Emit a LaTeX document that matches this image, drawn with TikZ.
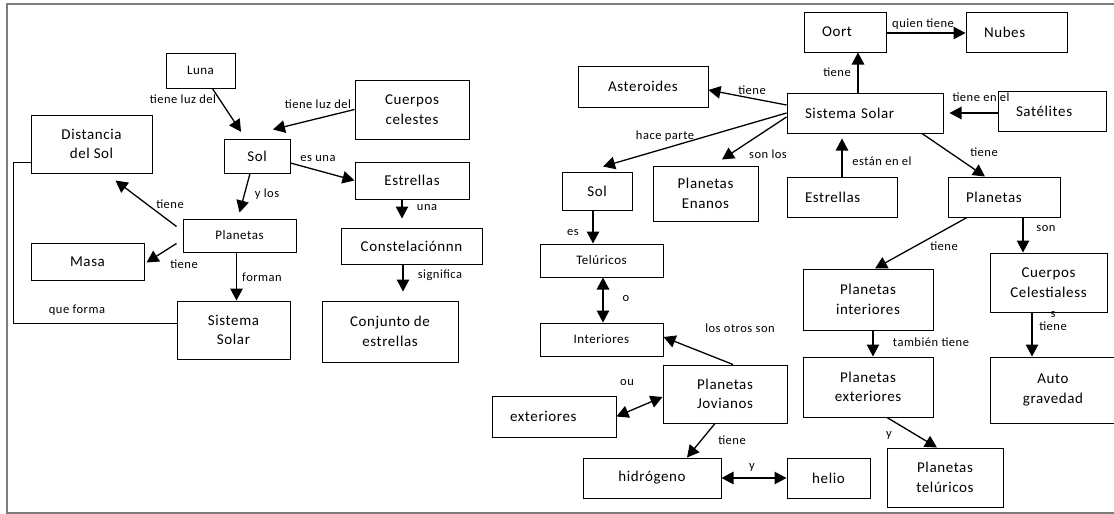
\documentclass[tikz,border=0pt]{standalone}
\usepackage{fontspec}
\setmainfont{Carlito}[LetterSpace=4]
\usepackage{xcolor}
\usepackage{tikz}
\usetikzlibrary{arrows.meta}
\definecolor{framegray}{RGB}{125,125,125}
\tikzset{edge/.style = {-{Triangle[length=12pt,width=12.5pt]}, line width=1.3pt}}
\tikzset{biedge/.style = {{Triangle[length=12pt,width=12.5pt]}-{Triangle[length=12pt,width=12.5pt]}, line width=1.3pt}}

\begin{document}
\begin{tikzpicture}[x=1pt,y=-1pt,
  box/.style 2 args={draw,line width=1pt,align=center,inner sep=0pt,minimum width=#1pt,minimum height=#2pt,font=\fontsize{15}{19.5}\selectfont},
  sbox/.style 2 args={box={#1}{#2},font=\fontsize{13}{16}\selectfont},
  lbox/.style 2 args={draw,line width=1pt,align=left,inner xsep=18pt,inner ysep=0pt,text width=#1pt,minimum height=#2pt,font=\fontsize{15}{19.5}\selectfont},
  lbl/.style={inner sep=0pt,font=\fontsize{12.5}{13}\selectfont}]
\useasboundingbox (0,0) rectangle (1114,514);
\fill[white] (0,0) rectangle (1114,514);
\draw[framegray,line width=2pt] (6.5,3.5) rectangle (1125,512.5);

\node[sbox={69}{35}] (luna) at (200.5,70.5) {Luna};
\node[box={121}{58}] (dist) at (91.5,144) {Distancia\\del Sol};
\node[box={66}{34}] (sol1) at (257,156) {Sol};
\node[box={114}{59}] (cuerpos) at (412,109.5) {Cuerpos\\celestes};
\node[box={114}{37}] (estr1) at (412,180.5) {Estrellas};
\node[box={141}{36}] (const) at (411.5,246) {Constelaciónnn};
\node[box={136}{61}] (conj) at (390,331.5) {Conjunto de\\estrellas};
\node[sbox={113}{33}] (plan1) at (239.5,235.5) {Planetas};
\node[box={113}{37}] (masa) at (87.5,261.5) {Masa};
\node[box={113}{58}] (sis1) at (233.5,330) {Sistema\\Solar};

\node[lbox={46}{40}] (oort) at (845,32) {Oort};
\node[lbox={65}{40}] (nubes) at (1016.5,32) {Nubes};
\node[lbox={120}{40}] (sis2) at (865,113) {Sistema Solar};
\node[lbox={72}{40}] (sat) at (1052,111) {Satélites};
\node[box={130}{41}] (aster) at (643,86.5) {Asteroides};
\node[box={70}{38}] (sol2) at (597,191) {Sol};
\node[box={105}{55}] (enanos) at (705.5,193.5) {Planetas\\Enanos};
\node[lbox={74}{40}] (estr2) at (842,197) {Estrellas};
\node[lbox={76}{40}] (plan2) at (1004,197) {Planetas};
\node[sbox={123}{33}] (telur) at (601.5,260.5) {Telúricos};
\node[sbox={123}{33}] (inter) at (601.5,339.5) {Interiores};
\node[box={124}{58}] (jov) at (725,394) {Planetas\\Jovianos};
\node[lbox={88}{41}] (exter) at (554,416.5) {exteriores};
\node[box={138}{40}] (hidro) at (652,478) {hidrógeno};
\node[box={83}{40}] (helio) at (828.5,478) {helio};
\node[box={116}{59}] (ptel) at (945,477.5) {Planetas\\telúricos};
\node[box={130}{61}] (pint) at (868,299.5) {Planetas\\interiores};
\node[box={130}{60}] (pext) at (868,387) {Planetas\\exteriores};
\node[box={117}{59}] (cuer2) at (1048.5,282.5) {Cuerpos\\Celestialess};
\node[box={126}{66}] (auto) at (1053,390) {Auto\\gravedad};

\draw[edge,shorten >=8pt] (luna) -- (sol1);
\draw[edge] (cuerpos.west) -- ([xshift=16pt,yshift=9pt]sol1.north);
\draw[edge] ([yshift=-7pt]sol1.east) -- (estr1.west);
\draw[edge] ([xshift=-7pt]sol1.south) -- ([yshift=6pt]plan1.north);
\draw[edge] ([xshift=-6pt,yshift=9pt]plan1.west) -- ([xshift=24pt,yshift=-7pt]dist.south);
\draw[edge] ([xshift=-6pt,yshift=-8pt]plan1.west) -- ([xshift=2pt,yshift=-1pt]masa.east);
\draw[edge] ([xshift=-3pt]plan1.south) -- ([xshift=3pt]sis1.north);
\draw[line width=1pt] ([yshift=7pt]sis1.west) -- ++(-163,0) |- ([yshift=-18pt]dist.west);
\draw[edge] ([xshift=-10pt]estr1.south) -- ([xshift=-9.5pt,yshift=9pt]const.north);
\draw[edge] ([xshift=-8.5pt]const.south) -- ([xshift=13pt,yshift=9pt]conj.north);

\draw[edge] ([xshift=-7pt]sis2.north) -- ([xshift=13pt]oort.south);
\draw[edge] ([yshift=-1pt]oort.east) -- ([yshift=-1pt]nubes.west);
\draw[edge] ([yshift=-2pt]sat.west) -- ([xshift=6pt]sis2.east);
\draw[edge] ([yshift=8pt]sis2.west) -- ([yshift=-3.5pt]aster.east);
\draw[edge] (sis2.west) -- ([xshift=6pt,yshift=5pt]sol2.north);
\draw[edge] ([yshift=-4pt]sis2.west) -- ([xshift=16.5pt,yshift=6pt]enanos.north);
\draw[edge,shorten >=5pt] (estr2.north) -- (estr2.north |- sis2.south);
\draw[edge] ([xshift=57pt]sis2.south) -- ([xshift=-19pt]plan2.north);
\draw[edge] ([xshift=-37pt]plan2.south) -- ([xshift=7pt]pint.north);
\draw[edge] ([xshift=19pt]plan2.south) -- ([xshift=-25.5pt]cuer2.north);
\draw[edge] ([xshift=-16.5pt]cuer2.south) -- ([xshift=-21pt]auto.north);
\draw[edge] ([xshift=5pt]pint.south) -- ([xshift=5pt]pext.north);
\draw[edge] ([xshift=19pt]pext.south) -- ([xshift=-8pt]ptel.north);
\draw[edge] ([xshift=-4pt]sol2.south) -- ([xshift=-8.5pt]telur.north);
\draw[biedge] ([xshift=1.5pt]telur.south) -- ([xshift=1.5pt]inter.north);
\draw[edge] ([xshift=8pt]jov.north) -- ([yshift=2.5pt]inter.east);
\draw[biedge] (exter.east) -- ([yshift=-3pt]jov.west);
\draw[edge] ([xshift=-10pt]jov.south) -- ([xshift=35pt]hidro.north);
\draw[biedge] (hidro.east) -- (helio.west);

\node[lbl] (t1) at (183,99) {tiene luz del};
\node[lbl] (t2) at (318,104) {tiene luz del};
\node[lbl] (t3) at (318,159) {es una};
\node[lbl] (t4) at (267,194) {y los};
\node[lbl] (t5) at (170,204) {tiene};
\node[lbl] (t6) at (184,264) {tiene};
\node[lbl] (t7) at (262,277) {forman};
\node[lbl] (t8) at (77,310) {que forma};
\node[lbl] (t9) at (427,208) {una};
\node[lbl] (t10) at (440,275) {significa};
\node[lbl] (t11) at (837,72) {tiene};
\node[lbl] (t12) at (923,24) {quien tiene};
\node[lbl] (t13) at (981,97) {tiene en el};
\node[lbl] (t14) at (752,90) {tiene};
\node[lbl] (t15) at (665,136) {hace parte};
\node[lbl] (t16) at (768,154) {son los};
\node[lbl] (t17) at (882,161) {están en el};
\node[lbl] (t18) at (984,152) {tiene};
\node[lbl] (t19) at (944,246) {tiene};
\node[lbl] (t20) at (1046,229) {son};
\node[lbl,align=center] (t21) at (1053,321) {s\\tiene};
\node[lbl] (t22) at (931,342) {también tiene};
\node[lbl] (t23) at (889,436) {y};
\node[lbl] (t24) at (573,233) {es};
\node[lbl] (t25) at (626,299) {o};
\node[lbl] (t26) at (740,328) {los otros son};
\node[lbl] (t27) at (627,383) {ou};
\node[lbl] (t28) at (732,440) {tiene};
\node[lbl] (t29) at (752,468) {y};
\end{tikzpicture}
\end{document}
